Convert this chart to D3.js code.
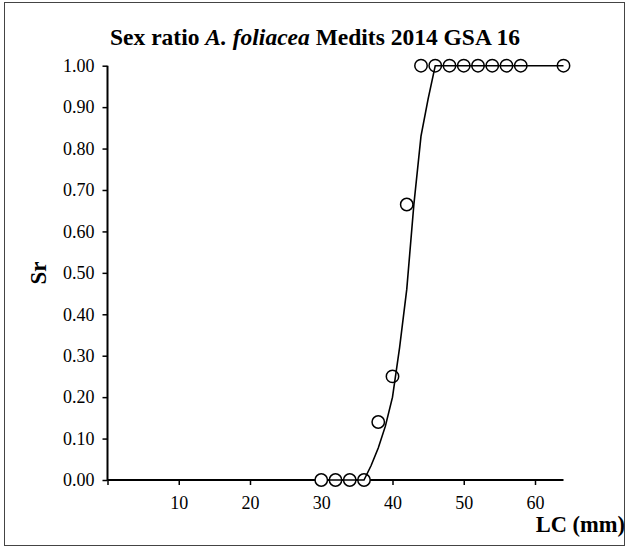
<!DOCTYPE html>
<html>
<head>
<meta charset="utf-8">
<script src="https://cdn.jsdelivr.net/npm/d3@7"></script>
<style>
  html, body { margin: 0; padding: 0; background: #fff; }
  svg { display: block; }
</style>
</head>
<body>
<svg id="chart" width="628" height="547"></svg>
<script>
// Observed sex ratio by carapace length (mm)
const obsLC = [30, 32, 34, 36, 38, 40, 42, 44, 46, 48, 50, 52, 54, 56, 58, 64];
const obsSr = [0, 0, 0, 0, 0.14, 0.25, 0.665, 1, 1, 1, 1, 1, 1, 1, 1, 1];
// Fitted curve
const fitLC = [31, 32, 33, 34, 35, 36, 37, 38, 39, 40, 41, 42, 43, 44, 45, 46, 64];
const fitSr = [0, 0, 0, 0, 0, 0, 0.035, 0.077, 0.13, 0.2, 0.32, 0.46, 0.665, 0.83, 0.92, 1, 1];
// Axis ticks
const xTicks = [0, 10, 20, 30, 40, 50, 60];
const yTicks = [0, 0.1, 0.2, 0.3, 0.4, 0.5, 0.6, 0.7, 0.8, 0.9, 1.0];

// pick first installed serif font
function pickFont(list) {
  const c = document.createElement("canvas").getContext("2d");
  const probe = "Sex ratio 0.123456789 LC (mm) Wiggly";
  for (const f of list) {
    for (const base of ["monospace", "sans-serif"]) {
      c.font = `20px ${base}`;
      const w0 = c.measureText(probe).width;
      c.font = `20px "${f}", ${base}`;
      if (Math.abs(c.measureText(probe).width - w0) > 0.5) return `"${f}"`;
    }
  }
  return "serif";
}
const FONT = pickFont(["Liberation Serif", "Times New Roman", "Tinos", "DejaVu Serif", "Noto Serif"]) + ", serif";

const svg = d3.select("#chart");

// outer frame
svg.append("rect")
  .attr("x", 4.5).attr("y", 2.5).attr("width", 620).attr("height", 543)
  .attr("fill", "none").attr("stroke", "#444").attr("stroke-width", 1);

const x = d3.scaleLinear().domain([0, 64]).range([107.5, 563.5]);
const y = d3.scaleLinear().domain([0, 1]).range([480, 65.7]);

// title
const title = svg.append("text")
  .attr("x", 315).attr("y", 45)
  .attr("text-anchor", "middle")
  .style("font-family", FONT)
  .style("font-size", "23.5px").style("font-weight", "bold");
title.append("tspan").text("Sex ratio ");
title.append("tspan").style("font-style", "italic").text("A. foliacea");
title.append("tspan").text(" Medits 2014 GSA 16");

// y axis
const yAxis = svg.append("g")
  .attr("transform", `translate(${x(0)},0)`)
  .call(d3.axisLeft(y).tickValues(yTicks).tickFormat(d3.format(".2f")).tickSize(5).tickPadding(8));
// x axis
const xAxis = svg.append("g")
  .attr("transform", `translate(0,${y(0)})`)
  .call(d3.axisBottom(x).tickValues(xTicks).tickFormat(d => d === 0 ? "" : d).tickSize(5).tickPadding(11));

[yAxis, xAxis].forEach(g => {
  g.attr("font-family", null);
  g.select(".domain").attr("stroke", "#000").attr("stroke-width", 2);
  g.selectAll(".tick line").attr("stroke", "#000").attr("stroke-width", 1.5);
  g.selectAll(".tick text")
    .style("font-family", FONT)
    .style("font-size", "18px").attr("fill", "#000");
});
yAxis.select(".domain").attr("d", `M0,${y(1)}V${y(0)}`);
xAxis.select(".domain").attr("d", `M${x(0)},0H${x(64)}`);

// axis titles
svg.append("text")
  .attr("transform", `translate(46,273) rotate(-90)`)
  .attr("text-anchor", "middle")
  .style("font-family", FONT)
  .style("font-size", "23px").style("font-weight", "bold")
  .text("Sr");
svg.append("text")
  .attr("x", 625).attr("y", 532)
  .attr("text-anchor", "end")
  .style("font-family", FONT)
  .style("font-size", "22.5px").style("font-weight", "bold")
  .text("LC (mm)");

// observed points (white fill, under the fitted line)
svg.append("g").selectAll("circle")
  .data(obsLC.map((d, i) => [d, obsSr[i]]))
  .join("circle")
  .attr("cx", d => x(d[0])).attr("cy", d => y(d[1]))
  .attr("r", 6.2)
  .attr("fill", "#fff").attr("stroke", "#000").attr("stroke-width", 1.5);

// fitted line
const line = d3.line().x(d => x(d[0])).y(d => y(d[1]));
svg.append("path")
  .datum(fitLC.map((d, i) => [d, fitSr[i]]))
  .attr("d", line)
  .attr("fill", "none").attr("stroke", "#000").attr("stroke-width", 1.6);
</script>
</body>
</html>
